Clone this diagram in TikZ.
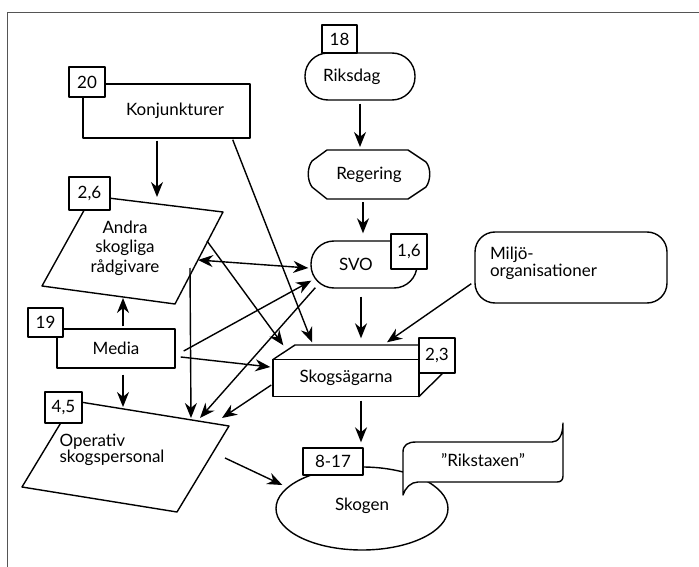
\documentclass[tikz,border=0pt]{standalone}
\usepackage{fontspec}
\setmainfont{Lato}
\usepackage{tikz}
\usetikzlibrary{arrows.meta,calc,positioning,shapes.geometric}
\definecolor{framegray}{HTML}{555555}
\tikzset{
  flow/.style={black, line width=1.4pt, -{Stealth[length=15pt,width=12pt]}},
  flowboth/.style={black, line width=1.4pt, {Stealth[length=15pt,width=12pt]}-{Stealth[length=15pt,width=12pt]}},
  outline/.style={draw, fill=white, line width=1.4pt, line join=round},
  boxnode/.style={outline, inner sep=0pt, align=center},
  pillnode/.style={outline, inner sep=0pt, minimum height=47pt, rounded corners=23pt, align=left},
  tagbox/.style={outline, inner sep=0pt},
  plaintext/.style={inner sep=0pt, align=left}
}

\begin{document}
\begin{tikzpicture}[x=1pt, y=-1pt, font=\fontsize{17}{19.5}\selectfont]
  \useasboundingbox (0,0) rectangle (699,567);
  \draw[framegray, line width=0.8pt] (7,567) -- (7,12) -- (699,12);

  % actors
  \node[boxnode, minimum width=167pt, minimum height=54pt, text width=115pt, align=right] (konj) at (166.5,111) {Konjunkturer};
  \draw[outline] (92,196) -- (223,212) -- (175,304) -- (42,286) -- cycle;
  \node[plaintext, align=center] (andra) at (125,248) {Andra\\skogliga\\rådgivare};
  \node[pillnode, minimum width=110pt, text width=74pt] (riks) at (360,76.5) {Riksdag};
  \draw[outline] (327,150) -- (408,150) -- (426,162) .. controls (431,168) and (431,180) .. (426,187)
    -- (408,199) -- (327,199) -- (312,187) .. controls (307,180) and (307,168) .. (312,161) -- cycle;
  \node[plaintext] (reg) at (369,174.5) {Regering};
  \node[pillnode, minimum width=106pt, text width=50pt] (svo) at (364,264.5) {SVO};
  \node[pillnode, rounded corners=20pt, minimum width=192pt, minimum height=71pt, text width=162pt] (milj) at (571,267.5) {Miljö-\\[-2pt]organisationer\\[-8pt]\mbox{}};
  \draw[outline] (273,359.5) -- (295,345) -- (443,345) -- (443,373) -- (419,396.5) -- cycle;
  \node[boxnode, minimum width=146pt, minimum height=37pt] (skog) at (346,378) {Skogsägarna};
  \node[boxnode, minimum width=118pt, minimum height=39pt] (media) at (116,348.5) {Media};
  \draw[outline] (74,401) -- (229,426) -- (177,512) -- (22,487) -- cycle;
  \node[plaintext] (oper) at (112,450) {Operativ\\[-3pt]skogspersonal};
  \node[outline, ellipse, inner sep=0pt, minimum width=172pt, minimum height=83pt] (skogen) at (362,508.5) {};
  \node[plaintext] at (skogen.center) [yshift=3pt] {Skogen};
  \draw[outline] (403,495) -- (403,452) .. controls (403,445) and (408,442) .. (416,442) -- (552,442)
    .. controls (558,442) and (563,436) .. (563,423) -- (563,476) .. controls (563,480) and (561,482) .. (557,482)
    -- (418,482) .. controls (411,482) and (405,488) .. (403,495) -- cycle;
  \node[plaintext] (rikst) at (483,460) {”Rikstaxen”};

  % number tags
  \node[tagbox, minimum width=36pt, minimum height=30pt] (t20) at (87,82) {20};
  \node[tagbox, minimum width=35pt, minimum height=28pt] (t18) at (339.5,39) {18};
  \node[tagbox, minimum width=41pt, minimum height=33pt] (t26) at (89.5,193.5) {2,6};
  \node[tagbox, minimum width=36pt, minimum height=35pt] (t16) at (409,251.5) {1,6};
  \node[tagbox, minimum width=35pt, minimum height=29pt] (t19) at (45.5,322.5) {19};
  \node[tagbox, minimum width=36pt, minimum height=35pt] (t23) at (437,355.5) {2,3};
  \node[tagbox, minimum width=37pt, minimum height=31pt] (t45) at (63.5,407.5) {4,5};
  \node[tagbox, minimum width=60pt, minimum height=27pt] (t817) at (333,461.5) {8-17};

  % influences
  \draw[flow] ($(riks.south)+(0,3)$) -- ($(reg.center)+(-9,-27.5)$);
  \draw[flow] ($(reg.center)+(-6,27.5)$) -- ($(svo.north)+(-1,-7)$);
  \draw[flow] ($(konj.south)+(-9.5,2)$) -- ($(andra.center)+(32,-51)$);
  \draw[flow] ($(konj.south east)+(-18,1)$) -- ($(skog.north)+(-34,-16.5)$);
  \draw[flowboth] ($(andra.center)+(73,12)$) -- ($(svo.west)+(-2,3.5)$);
  \draw[flow] ($(andra.center)+(82,-7)$) -- ($(skog.north west)+(11,-13.5)$);
  \draw[flow] ($(andra.center)+(65,20)$) -- ($(oper.center)+(79,-32)$);
  \draw[flow] ($(media.east)+(8,2.5)$) -- ($(svo.south west)+(1,-8)$);
  \draw[flow] ($(svo.south west)+(5,-1)$) -- ($(oper.center)+(88,-32)$);
  \draw[flow] ($(media.east)+(5,8.5)$) -- ($(skog.west)+(-2,-11)$);
  \draw[flow] ($(skog.west)+(-1,7)$) -- ($(oper.center)+(110,-32)$);
  \draw[flow] ($(media.north)+(7,-2)$) -- ($(andra.center)+(-2,50)$);
  \draw[flow] ($(media.south)+(7,6)$) -- ($(oper.center)+(11,-43)$);
  \draw[flow] ($(svo.south)+(-3,8)$) -- ($(skog.north)+(15,-20.5)$);
  \draw[flow] ($(milj.south west)+(-3,-20)$) -- ($(skog.north)+(41,-16.5)$);
  \draw[flow] ($(skog.south)+(15,3.5)$) -- ($(skogen.north)+(-1,-24)$);
  \draw[flow] ($(oper.center)+(113,8)$) -- ($(skogen.west)+(7,-23.5)$);
\end{tikzpicture}
\end{document}
